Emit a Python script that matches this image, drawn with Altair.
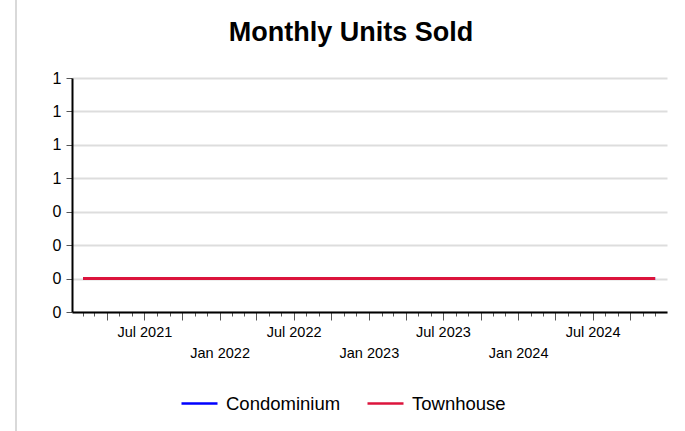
import altair as alt
import pandas as pd

# ---- data ----
months = pd.date_range("2021-02-01", "2024-12-01", freq="MS").strftime("%Y-%m-%d").tolist()
condominium = [0] * len(months)
townhouse = [0] * len(months)
series_names = ["Condominium", "Townhouse"]
series_colors = ["#0000FF", "#DC143C"]
y_ticks = [-0.2, 0, 0.2, 0.4, 0.6, 0.8, 1.0, 1.2]
x_start = alt.DateTime(year=2021, month=1, date=5, utc=True)
x_end = alt.DateTime(year=2024, month=12, date=30, utc=True)

df = pd.DataFrame({
    "month": months + months,
    "units": condominium + townhouse,
    "type": [series_names[0]] * len(months) + [series_names[1]] * len(months),
})

FONT = "Liberation Sans"
x_scale = alt.Scale(type="utc", domain=[x_start, x_end])

label_expr = (
    "utcmonth(datum.value) == 6 ? utcFormat(datum.value, '%b %Y') : "
    "(utcmonth(datum.value) == 0 ? ['', utcFormat(datum.value, '%b %Y')] : '')"
)

lines = alt.Chart(df).mark_line(strokeWidth=3).encode(
    x=alt.X(
        "month:T",
        scale=x_scale,
        axis=alt.Axis(
            orient="bottom",
            title=None,
            grid=False,
            tickCount={"interval": "month", "step": 3},
            labelExpr=label_expr,
            labelOverlap=False,
            labelFlush=False,
            labelFont=FONT,
            labelFontSize=14.5,
            labelColor="#000000",
            labelLineHeight=21,
            labelPadding=5,
            tickSize=8,
            tickColor="#555555",
            tickWidth=1,
            domainColor="#000000",
            domainWidth=2,
        ),
    ),
    y=alt.Y(
        "units:Q",
        scale=alt.Scale(domain=[-0.2, 1.2], nice=False, zero=False),
        axis=alt.Axis(
            title=None,
            values=y_ticks,
            format=".0f",
            labelFont=FONT,
            labelFontSize=16,
            labelColor="#000000",
            labelPadding=5,
            tickSize=6,
            tickColor="#555555",
            domainColor="#000000",
            domainWidth=2,
            gridColor="#dddddd",
            gridWidth=2,
        ),
    ),
    color=alt.Color(
        "type:N",
        scale=alt.Scale(domain=series_names, range=series_colors),
        legend=alt.Legend(
            title=None,
            orient="none",
            legendX=108,
            legendY=306,
            direction="horizontal",
            symbolType="stroke",
            symbolSize=1296,
            symbolStrokeWidth=2.5,
            labelFont=FONT,
            labelFontSize=18.5,
            labelColor="#000000",
            labelOffset=7,
            columnPadding=21,
        ),
    ),
)

minor = alt.Chart(df).mark_point(opacity=0).encode(
    x=alt.X(
        "month:T",
        scale=x_scale,
        axis=alt.Axis(
            orient="bottom",
            title=None,
            grid=False,
            labels=False,
            domain=False,
            tickCount={"interval": "month", "step": 1},
            tickSize=4,
            tickColor="#555555",
            tickWidth=1,
        ),
    ),
)

border = alt.Chart(pd.DataFrame({"b": [0]})).mark_rule(
    stroke="#d9d9d9", strokeWidth=2, clip=False
).encode(x=alt.value(-56), y=alt.value(-78), y2=alt.value(353))

chart = (
    alt.layer(border, minor, lines)
    .resolve_axis(x="independent")
    .properties(
        width=595,
        height=234,
        padding={"left": 72, "top": 78, "right": 18, "bottom": 119},
        autosize=alt.AutoSizeParams(type="none"),
        background="#ffffff",
        title=alt.Title(
            "Monthly Units Sold",
            font=FONT,
            fontSize=27,
            fontWeight="bold",
            color="#000000",
            anchor="middle",
            frame="group",
            baseline="alphabetic",
            dx=-18.5,
            offset=-69,
        ),
    )
    .configure_view(strokeWidth=0)
)

chart.save("out.html", embed_options={"renderer": "svg", "actions": False})
